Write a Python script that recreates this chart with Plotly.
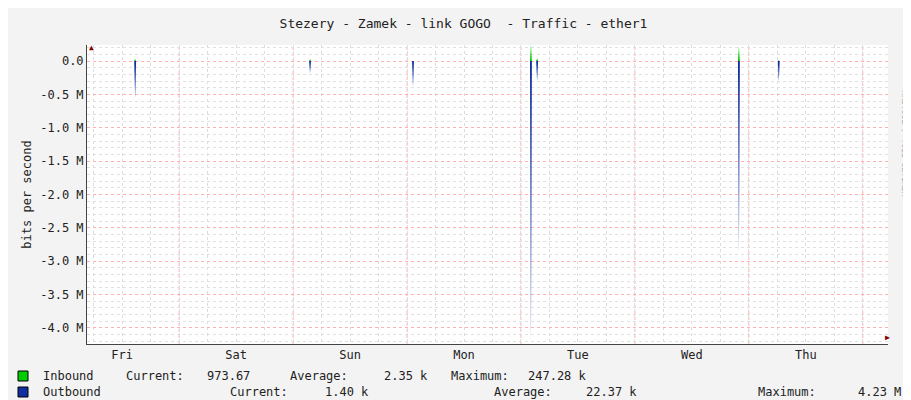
import plotly.graph_objects as go

# hours since Fri 00:00
spike_hours = [14.74, 51.58, 73.26, 98.1, 99.4, 141.9, 150.3]
inbound_peaks = [0.03, 0.03, 0.01, 0.25, 0.04, 0.22, 0.01]      # M bits/s
outbound_peaks = [-0.55, -0.18, -0.38, -4.23, -0.30, -2.87, -0.30]  # M bits/s (drawn negative)
day_labels = ["Fri", "Sat", "Sun", "Mon", "Tue", "Wed", "Thu"]
y_ticks = [0.0, -0.5, -1.0, -1.5, -2.0, -2.5, -3.0, -3.5, -4.0]
y_tick_labels = ["0.0", "-0.5 M", "-1.0 M", "-1.5 M", "-2.0 M", "-2.5 M", "-3.0 M", "-3.5 M", "-4.0 M"]

def series(peaks):
    xs, ys = [4.6], [0]
    for h, v in zip(spike_hours, peaks):
        xs += [h - 0.2, h, h + 0.2]
        ys += [0, v, 0]
    xs.append(173.3); ys.append(0)
    return xs, ys

fig = go.Figure()
xi, yi = series(inbound_peaks)
xo, yo = series(outbound_peaks)
fig.add_trace(go.Scatter(x=xi, y=yi, mode="lines", fill="tozeroy",
                         line=dict(color="#00CC00", width=0), fillcolor="#00CC00"))
fig.add_trace(go.Scatter(x=xo, y=yo, mode="lines", fill="tozeroy",
                         line=dict(color="#1030A0", width=0), fillcolor="#1030A0"))

F = dict(family="DejaVu Sans Mono", size=12, color="#222")
fig.update_layout(
    width=911, height=400, showlegend=False,
    paper_bgcolor="#F3F3F3", plot_bgcolor="white",
    margin=dict(l=79, r=31, t=37, b=64, autoexpand=False),
    font=F,
    title=dict(text="Stezery - Zamek - link GOGO  - Traffic - ether1", x=0.5, xanchor="center",
               y=1 - 15/400, yanchor="middle", font=dict(family="DejaVu Sans Mono", size=13, color="#222")),
    xaxis=dict(range=[4.6, 173.3], tickvals=[12 + 24*i for i in range(7)], ticktext=day_labels,
               showgrid=False, zeroline=False, showline=True, linecolor="#444", ticks="",
               automargin=False,
               minor=dict(dtick=6, tick0=0, showgrid=True, gridcolor="#DDDDDD", griddash="dot")),
    yaxis=dict(range=[-4.24, 0.24], tickvals=y_ticks, ticktext=y_tick_labels,
               showgrid=True, gridcolor="#FFB0B0", griddash="dot", zeroline=False,
               showline=True, linecolor="#444", ticks="", automargin=False,
               title=dict(text="bits per second", standoff=6, font=dict(size=12)),
               minor=dict(dtick=0.1, tick0=0, showgrid=True, gridcolor="#E0E0E0", griddash="dot")),
)
for d in range(1, 8):
    fig.add_vline(x=24*d, line=dict(color="#FFB0B0", width=1, dash="dot"), layer="below")

def px(x): return (x - 79) / 801
def py(y): return (336 - y) / 299

rows = [
    (368, "#00CC00", [(33, "Inbound"), (116, "Current:"), (197, "973.67"), (280, "Average:"),
                      (374, "2.35 k"), (441, "Maximum:"), (518, "247.28 k")]),
    (384, "#1030A0", [(33, "Outbound"), (220, "Current:"), (315, "1.40 k"), (484, "Average:"),
                      (576, "22.37 k"), (748, "Maximum:"), (848, "4.23 M")]),
]
for ycen, col, items in rows:
    fig.add_shape(type="rect", xref="paper", yref="paper", x0=px(10), x1=px(20),
                  y0=py(ycen + 5), y1=py(ycen - 5), fillcolor=col, line=dict(color="#000", width=1))
    for xpix, t in items:
        fig.add_annotation(text=t, xref="paper", yref="paper", x=px(xpix), y=py(ycen),
                           xanchor="left", yanchor="middle", showarrow=False, font=F)

fig.add_annotation(text="RRDTOOL / TOBI OETIKER", textangle=90, xref="paper", yref="paper",
                   x=px(903), y=py(80), showarrow=False,
                   font=dict(family="DejaVu Sans Mono", size=8, color="#AAAAAA"))
fig.add_annotation(text="▲", xref="paper", yref="paper", x=px(79), y=py(33), showarrow=False,
                   font=dict(size=8, color="#8B0000"))
fig.add_annotation(text="▶", xref="paper", yref="paper", x=px(884), y=py(336), showarrow=False,
                   font=dict(size=8, color="#8B0000"))

fig.write_html("out.html")
